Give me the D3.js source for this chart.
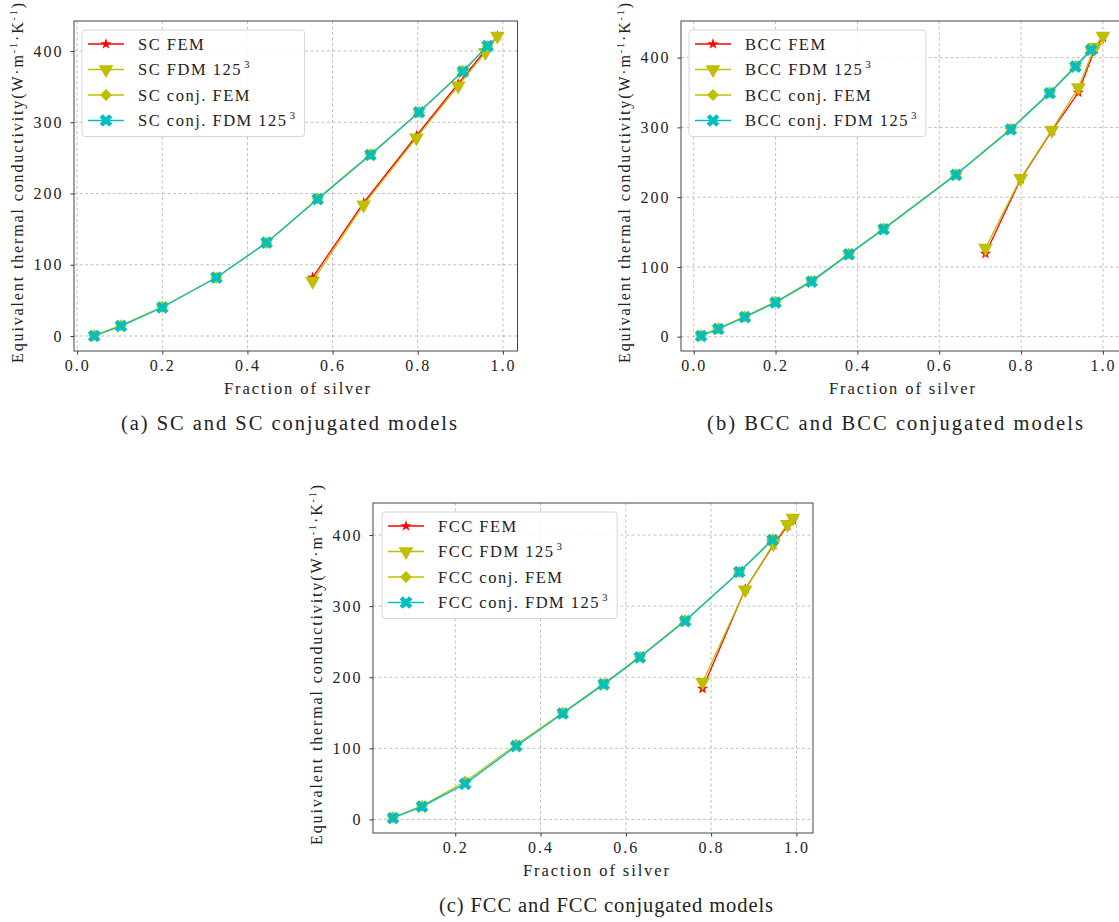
<!DOCTYPE html>
<html>
<head>
<meta charset="utf-8">
<script src="https://cdn.jsdelivr.net/npm/d3@7"></script>
<style>
  body { margin: 0; background: #fff; }
  svg { display: block; }
  text { font-family: "Liberation Serif", "Times New Roman", serif; fill: #222; }
</style>
</head>
<body>
<div id="chart"></div>
<script>
const width = 1119;
const height = 922;

// ticks shared by all panels
const xTicks = [0.0, 0.2, 0.4, 0.6, 0.8, 1.0];
const yTicks = [0, 100, 200, 300, 400];

// (a) SC
const scFemX = [0.553, 0.673, 0.797, 0.895, 0.959, 0.987];
const scFemY = [82, 187, 281, 354, 401, 421];
const scFdmY = [77, 184, 278, 351, 398, 421];
const scConjX = [0.040, 0.103, 0.200, 0.327, 0.445, 0.565, 0.689, 0.803, 0.906, 0.964];
const scConjFemY = [1, 15, 41, 82, 131, 193, 255, 314, 372, 407];
const scConjFdmY = [0, 14, 40, 82, 131, 192, 254, 314, 371, 407];

// (b) BCC
const bccFemX = [0.713, 0.799, 0.875, 0.940, 0.980, 1.000];
const bccFemY = [119, 226, 295, 350, 412, 429];
const bccFdmY = [127, 227, 296, 357, 415, 431];
const bccConjX = [0.018, 0.060, 0.125, 0.200, 0.288, 0.379, 0.464, 0.641, 0.775, 0.870, 0.933, 0.971];
const bccConjFemY = [2, 12, 29, 50, 80, 119, 155, 233, 298, 350, 388, 412];
const bccConjFdmY = [1, 11, 28, 49, 79, 118, 154, 232, 297, 349, 387, 411];

// (c) FCC
const fccFemX = [0.780, 0.880, 0.946, 0.979, 0.992];
const fccFemY = [184, 324, 386, 413, 421];
const fccFdmY = [193, 323, 388, 415, 424];
const fccConjX = [0.054, 0.122, 0.223, 0.343, 0.452, 0.548, 0.633, 0.739, 0.866, 0.944];
const fccConjFemY = [3, 19, 53, 105, 150, 191, 229, 280, 348, 394];
const fccConjFdmY = [2, 18, 50, 103, 149, 190, 228, 279, 348, 393];

const panels = [
  { name: "SC", caption: "(a) SC and SC conjugated models", capX: 289, capW: 336, xTitleX: 297,
    left: 74, top: 21, w: 443.5, h: 330, legendX: 82,
    femX: scFemX, femY: scFemY, fdmY: scFdmY, conjX: scConjX, conjFemY: scConjFemY, conjFdmY: scConjFdmY },
  { name: "BCC", caption: "(b) BCC and BCC conjugated models", capX: 895, capW: 376, xTitleX: 902,
    left: 681, top: 21, w: 442, h: 330, legendX: 689,
    femX: bccFemX, femY: bccFemY, fdmY: bccFdmY, conjX: bccConjX, conjFemY: bccConjFemY, conjFdmY: bccConjFdmY },
  { name: "FCC", caption: "(c) FCC and FCC conjugated models", capX: 606, capW: 334, xTitleX: 596,
    left: 373, top: 503, w: 440, h: 330, legendX: 382,
    femX: fccFemX, femY: fccFemY, fdmY: fccFdmY, conjX: fccConjX, conjFemY: fccConjFemY, conjFdmY: fccConjFdmY }
];

const red = "#ff0000", yel = "#bfbf00", cyan = "#00bfbf";

const svg = d3.select("#chart").append("svg")
  .attr("width", width)
  .attr("height", height);

function withMargin(lo, hi) {
  const m = (hi - lo) * 0.05;
  return [lo - m, hi + m];
}

function drawPanel(p) {
  const allX = p.femX.concat(p.conjX);
  const allY = p.femY.concat(p.fdmY, p.conjFemY, p.conjFdmY);
  const x = d3.scaleLinear().domain(withMargin(d3.min(allX), d3.max(allX))).range([p.left, p.left + p.w]);
  const y = d3.scaleLinear().domain(withMargin(d3.min(allY), d3.max(allY))).range([p.top + p.h, p.top]);

  const g = svg.append("g");
  const xt = xTicks.filter(t => t >= x.domain()[0] && t <= x.domain()[1]);

  // grid
  g.append("g").selectAll("line").data(xt).join("line")
    .attr("x1", d => x(d)).attr("x2", d => x(d))
    .attr("y1", p.top).attr("y2", p.top + p.h)
    .attr("stroke", "#b0b0b0").attr("stroke-width", 0.8).attr("stroke-dasharray", "3,2.5");
  g.append("g").selectAll("line").data(yTicks).join("line")
    .attr("y1", d => y(d)).attr("y2", d => y(d))
    .attr("x1", p.left).attr("x2", p.left + p.w)
    .attr("stroke", "#b0b0b0").attr("stroke-width", 0.8).attr("stroke-dasharray", "3,2.5");

  // axes
  const xAxis = d3.axisBottom(x).tickValues(xt).tickFormat(d3.format(".1f")).tickSizeInner(3.5).tickSizeOuter(0).tickPadding(5);
  const yAxis = d3.axisLeft(y).tickValues(yTicks).tickFormat(d3.format("d")).tickSizeInner(3.5).tickSizeOuter(0).tickPadding(7);
  const gx = g.append("g").attr("transform", `translate(0,${p.top + p.h})`).call(xAxis);
  const gy = g.append("g").attr("transform", `translate(${p.left},0)`).call(yAxis);
  [gx, gy].forEach(a => {
    a.select(".domain").remove();
    a.selectAll("line").attr("stroke", "#333");
    a.selectAll("text").attr("font-size", 16).style("letter-spacing", "2px")
      .attr("font-family", "Liberation Serif").attr("fill", "#222");
  });

  const line = d3.line().x(d => x(d[0])).y(d => y(d[1]));
  const series = [
    { xs: p.femX, ys: p.femY, color: red, sym: d3.symbolStar, size: 40, rot: 0 },
    { xs: p.femX, ys: p.fdmY, color: yel, sym: d3.symbolTriangle, size: 95, rot: 180 },
    { xs: p.conjX, ys: p.conjFemY, color: yel, sym: d3.symbolSquare, size: 72, rot: 45 },
    { xs: p.conjX, ys: p.conjFdmY, color: cyan, sym: d3.symbolCross, size: 100, rot: 45 }
  ];
  series.forEach(s => {
    const pts = s.xs.map((v, i) => [v, s.ys[i]]);
    g.append("path").datum(pts)
      .attr("fill", "none").attr("stroke", s.color).attr("stroke-width", 1.3)
      .attr("d", line);
    g.append("g").selectAll("path").data(pts).join("path")
      .attr("transform", d => `translate(${x(d[0])},${y(d[1])}) rotate(${s.rot})`)
      .attr("d", d3.symbol().type(s.sym).size(s.size))
      .attr("fill", s.color);
  });

  // frame
  g.append("rect")
    .attr("x", p.left).attr("y", p.top).attr("width", p.w).attr("height", p.h)
    .attr("fill", "none").attr("stroke", "#444").attr("stroke-width", 1);

  // legend
  const lg = g.append("g").attr("transform", `translate(${p.legendX},${p.top + 9})`);
  const labels = [`${p.name} FEM`, `${p.name} FDM 125`, `${p.name} conj. FEM`, `${p.name} conj. FDM 125`];
  const texts = [];
  labels.forEach((lab, i) => {
    const yy = 14 + i * 25.5;
    const s = series[i];
    lg.append("line").attr("x1", 6).attr("x2", 42).attr("y1", yy).attr("y2", yy)
      .attr("stroke", s.color).attr("stroke-width", 1.3);
    lg.append("path").attr("transform", `translate(24,${yy}) rotate(${s.rot})`)
      .attr("d", d3.symbol().type(s.sym).size(s.size)).attr("fill", s.color);
    const t = lg.append("text").attr("x", 56).attr("y", yy + 5.5)
      .attr("font-size", 16.5).style("letter-spacing", "1.5px").text(lab);
    if (i % 2 === 1) {
      t.append("tspan").attr("dx", 2).attr("dy", -7).attr("font-size", 11).text("3");
    }
    texts.push(t);
  });
  const maxW = d3.max(texts, t => t.node().getComputedTextLength());
  lg.insert("rect", ":first-child")
    .attr("x", 0).attr("y", 0).attr("width", maxW + 66).attr("height", 106.5)
    .attr("rx", 3).attr("fill", "#fff").attr("fill-opacity", 0.85)
    .attr("stroke", "#d6d6d6").attr("stroke-width", 1);

  // axis titles
  g.append("text")
    .attr("x", p.xTitleX).attr("y", p.top + p.h + 43)
    .attr("text-anchor", "middle").attr("font-size", 16.5)
    .attr("textLength", 146).attr("lengthAdjust", "spacing")
    .text("Fraction of silver");

  const yl = g.append("text")
    .attr("transform", `translate(${p.left - 51},${p.top + p.h / 2 - 3}) rotate(-90)`)
    .attr("text-anchor", "middle").attr("font-size", 16)
    .attr("textLength", 360).attr("lengthAdjust", "spacing");
  yl.append("tspan").text("Equivalent thermal conductivity(W·m");
  yl.append("tspan").attr("dy", -6).attr("font-size", 10).text("-1");
  yl.append("tspan").attr("dy", 6).text("·K");
  yl.append("tspan").attr("dy", -6).attr("font-size", 10).text("-1");
  yl.append("tspan").attr("dy", 6).text(")");

  // caption
  g.append("text")
    .attr("x", p.capX).attr("y", p.top + p.h + 79)
    .attr("text-anchor", "middle").attr("font-size", 20.5)
    .attr("textLength", p.capW).attr("lengthAdjust", "spacing")
    .text(p.caption);
}

panels.forEach(drawPanel);
</script>
</body>
</html>
